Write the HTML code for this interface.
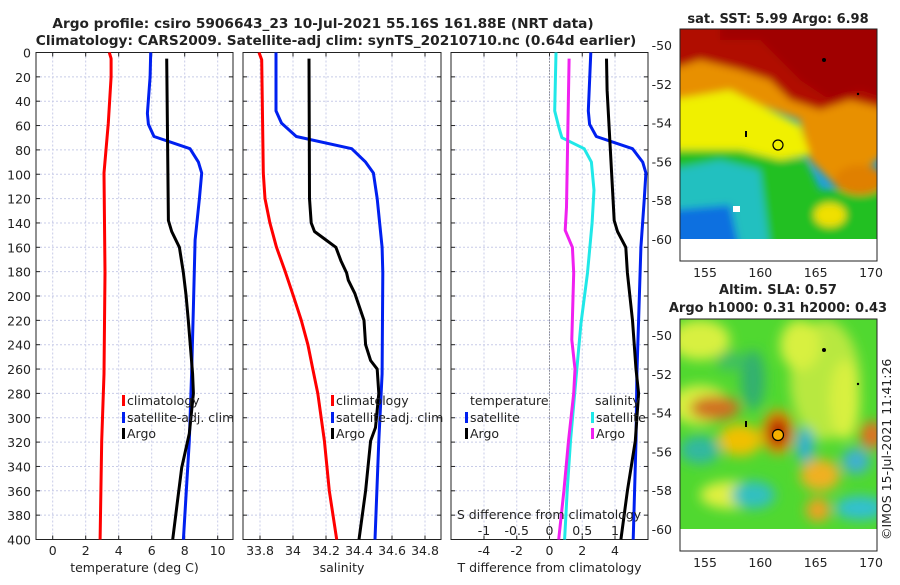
<!DOCTYPE html>
<html><head><meta charset="utf-8"><style>
body{margin:0;background:#fff}
svg text{font-family:"DejaVu Sans","Liberation Sans",sans-serif;fill:#222}
</style></head><body>
<svg id="c" width="900" height="580" viewBox="0 0 900 580" xmlns="http://www.w3.org/2000/svg">
<defs>
<filter id="bl" x="-50%" y="-50%" width="200%" height="200%"><feGaussianBlur stdDeviation="6"/></filter>
<filter id="bl2" x="-50%" y="-50%" width="200%" height="200%"><feGaussianBlur stdDeviation="4"/></filter>
<clipPath id="m1"><rect x="680" y="29" width="197" height="210"/></clipPath>
<clipPath id="m2"><rect x="680" y="319" width="197" height="210"/></clipPath>
</defs>
<text x="323" y="28" text-anchor="middle" font-weight="bold" font-size="13.7">Argo profile: csiro 5906643_23 10-Jul-2021 55.16S 161.88E (NRT data)</text>
<text x="336" y="45" text-anchor="middle" font-weight="bold" font-size="13.7">Climatology: CARS2009. Satellite-adj clim: synTS_20210710.nc (0.64d earlier)</text>
<g id="plots"></g>
<g id="maps">
  <g clip-path="url(#m1)">
    <rect x="680" y="29" width="197" height="210" fill="#1aa0e0"/>
    <g filter="url(#bl2)">
      <polygon points="670,20 890,20 890,150 840,190 810,160 800,120 760,105 730,90 700,95 670,100" fill="#e89000"/>
      <polygon points="670,100 700,95 730,90 760,105 800,125 810,155 780,160 740,150 700,160 670,165" fill="#f0f000"/>
      <polygon points="670,150 700,150 740,150 780,160 805,158 820,190 860,190 890,180 890,250 670,250" fill="#20c020"/>
      <polygon points="670,170 720,160 760,170 770,250 670,250" fill="#20c0c0"/>
      <polygon points="670,210 730,205 740,250 670,250" fill="#1070e0"/>
      <ellipse cx="830" cy="215" rx="16" ry="12" fill="#f0e000"/>
      <ellipse cx="860" cy="180" rx="25" ry="15" fill="#e08000"/>
      <polygon points="670,20 890,20 890,110 850,100 820,110 790,100 770,80 740,70 700,60 670,70" fill="#b01000"/>
      <polygon points="720,20 890,20 890,100 860,90 830,100 800,80 780,60 760,40 720,40" fill="#a00000"/>
    </g>
    <rect x="733" y="206" width="7" height="6" fill="#fff"/>
  </g>
  <rect x="680" y="239" width="197" height="22" fill="#fff"/>
  <circle cx="778" cy="145" r="5" fill="none" stroke="#000" stroke-width="1.2"/>
  <circle cx="824" cy="60" r="2" fill="#000"/><circle cx="858" cy="94" r="1.2" fill="#000"/><rect x="745" y="131" width="2" height="6" fill="#000"/>
  <rect x="680" y="29" width="197" height="232" fill="none" stroke="#222"/>
  <text x="778" y="23" text-anchor="middle" font-weight="bold" font-size="13">sat. SST: 5.99 Argo: 6.98</text>
  <text x="778" y="294" text-anchor="middle" font-weight="bold" font-size="13">Altim. SLA: 0.57</text>
  <text x="778" y="312" text-anchor="middle" font-weight="bold" font-size="13">Argo h1000: 0.31 h2000: 0.43</text>
  <g clip-path="url(#m2)">
    <rect x="680" y="319" width="197" height="210" fill="#50d830"/>
    <g filter="url(#bl)">
      <ellipse cx="825" cy="380" rx="35" ry="60" fill="#b8e840"/>
      <ellipse cx="800" cy="345" rx="20" ry="25" fill="#d8f040"/>
      <ellipse cx="845" cy="400" rx="15" ry="40" fill="#d8f040"/>
      <ellipse cx="700" cy="340" rx="30" ry="20" fill="#d8f040"/>
      <ellipse cx="700" cy="405" rx="30" ry="20" fill="#d8f040"/>
      <ellipse cx="715" cy="408" rx="25" ry="12" fill="#d07020"/>
      <ellipse cx="740" cy="440" rx="22" ry="16" fill="#f0c000"/>
      <ellipse cx="730" cy="495" rx="30" ry="14" fill="#e0f040"/>
      <ellipse cx="820" cy="475" rx="20" ry="16" fill="#f0b020"/>
      <ellipse cx="818" cy="510" rx="12" ry="12" fill="#f0a020"/>
      <ellipse cx="872" cy="435" rx="12" ry="14" fill="#e07020"/>
      <ellipse cx="778" cy="432" rx="16" ry="22" fill="#f09000"/>
      <ellipse cx="778" cy="432" rx="10" ry="15" fill="#b01000"/>
      <ellipse cx="700" cy="450" rx="20" ry="14" fill="#30b8a0"/>
      <ellipse cx="753" cy="380" rx="12" ry="30" fill="#30b070"/>
      <ellipse cx="753" cy="495" rx="22" ry="14" fill="#30c0c0"/>
      <ellipse cx="805" cy="445" rx="9" ry="18" fill="#30b0d0"/>
      <ellipse cx="856" cy="461" rx="14" ry="13" fill="#40b0d0"/>
      <ellipse cx="860" cy="508" rx="25" ry="12" fill="#30c0d0"/>
      <ellipse cx="730" cy="361" rx="14" ry="10" fill="#40c060"/>
    </g>
  </g>
  <rect x="680" y="529" width="197" height="22" fill="#fff"/>
  <circle cx="778" cy="435" r="5.5" fill="#f5b000" stroke="#000" stroke-width="1.2"/>
  <circle cx="824" cy="350" r="2" fill="#000"/><circle cx="858" cy="384" r="1.2" fill="#000"/><rect x="745" y="421" width="2" height="6" fill="#000"/>
  <rect x="680" y="319" width="197" height="232" fill="none" stroke="#222"/>
  <text transform="translate(891,540) rotate(-90)" font-size="12.5">©IMOS 15-Jul-2021 11:41:26</text>
</g>
</svg>
<script>
const depthTicks=[0,20,40,60,80,100,120,140,160,180,200,220,240,260,280,300,320,340,360,380,400];
const tempTicks=[0,2,4,6,8,10];
const salTicks=[33.8,34,34.2,34.4,34.6,34.8];
const tdTicks=[-4,-2,0,2,4];
const sdTicks=[-1,-0.5,0,0.5,1];
const lonTicks=[155,160,165,170];
const latTicks=[-50,-52,-54,-56,-58,-60];
// temperature profiles [depth, value]
const tClim=[[0,3.43],[5,3.54],[20,3.54],[58,3.37],[99,3.11],[181,3.17],[264,3.11],[319,2.97],[400,2.87]];
const tSat=[[0,5.94],[20,5.9],[50,5.74],[59,5.8],[69,6.14],[79,8.32],[90,8.83],[99,9.03],[120,8.89],[154,8.63],[209,8.53],[264,8.42],[319,8.28],[400,7.92]];
const tArgo=[[5,6.91],[138,7.01],[147,7.21],[160,7.68],[181,7.92],[199,8.08],[220,8.22],[264,8.48],[280,8.53],[313,8.28],[341,7.82],[373,7.52],[400,7.27]];
// salinity profiles
const sClim=[[0,33.794],[6,33.81],[99,33.82],[120,33.83],[140,33.86],[160,33.9],[179,33.95],[199,34.0],[220,34.05],[240,34.09],[260,34.12],[280,34.15],[319,34.19],[360,34.22],[400,34.265]];
const sSat=[[0,33.897],[48,33.897],[58,33.93],[69,34.02],[79,34.356],[90,34.44],[99,34.487],[120,34.51],[160,34.54],[181,34.544],[264,34.54],[319,34.52],[400,34.497]];
const sArgo=[[5,34.097],[120,34.1],[140,34.11],[147,34.13],[154,34.2],[160,34.26],[171,34.29],[181,34.325],[187,34.335],[198,34.375],[220,34.43],[240,34.44],[253,34.47],[260,34.51],[280,34.52],[308,34.5],[319,34.47],[360,34.44],[400,34.4]];
// differences
const tdSat=[[0,2.52],[48,2.37],[59,2.45],[69,2.86],[79,5.07],[90,5.69],[99,5.89],[120,5.79],[160,5.58],[264,5.34],[319,5.28],[400,5.11]];
const tdArgo=[[5,3.48],[31,3.52],[138,3.95],[147,4.15],[160,4.66],[181,4.76],[220,5.07],[260,5.28],[280,5.44],[319,5.24],[360,4.76],[400,4.36]];
const sdSat=[[0,0.10],[48,0.08],[61,0.14],[70,0.19],[79,0.53],[90,0.64],[113,0.68],[140,0.65],[181,0.58],[223,0.48],[264,0.41],[319,0.32],[360,0.27],[400,0.23]];
const sdArgo=[[5,0.30],[127,0.26],[146,0.24],[160,0.35],[181,0.37],[236,0.34],[260,0.39],[280,0.37],[319,0.29],[360,0.22],[400,0.14]];

const NS='http://www.w3.org/2000/svg';
const root=document.getElementById('plots');
function mk(t,a,p){const e=document.createElementNS(NS,t);for(const k in a)e.setAttribute(k,a[k]);(p||root).appendChild(e);return e;}
const Y0=52.5,Y1=539.5;
function yD(d){return Y0+(d/400)*(Y1-Y0);}
function scale(x0,x1,v0,v1){return v=>x0+(v-v0)/(v1-v0)*(x1-x0);}
const xT=scale(52.7,217.7,0,10), xS=scale(260,425,33.8,34.8), xTD=scale(484,615,-4,4), xSD=scale(484,615,-1,1);
function panel(name,x0,x1,xs,ticks,fmt,label){
  const g=mk('g',{});
  
  
  depthTicks.forEach(d=>{mk('line',{x1:x0,x2:x1,y1:yD(d),y2:yD(d),stroke:'#c8cce8','stroke-dasharray':'2,2','stroke-width':1},g);});
  ticks.forEach(t=>{mk('line',{x1:xs(t),x2:xs(t),y1:Y0,y2:Y1,stroke:'#c8cce8','stroke-dasharray':'2,2'},g);
    mk('line',{x1:xs(t),x2:xs(t),y1:Y1,y2:Y1-4,stroke:'#222'},g);mk('line',{x1:xs(t),x2:xs(t),y1:Y0,y2:Y0+4,stroke:'#222'},g);
    const tx=mk('text',{x:xs(t),y:555,'text-anchor':'middle','font-size':12.5},g);tx.textContent=fmt(t);
    
    });
  depthTicks.forEach(d=>{mk('line',{x1:x0,x2:x0+4,y1:yD(d),y2:yD(d),stroke:'#222'},g);mk('line',{x1:x1,x2:x1-4,y1:yD(d),y2:yD(d),stroke:'#222'},g);});
  mk('rect',{x:x0,y:Y0,width:x1-x0,height:Y1-Y0,fill:'none',stroke:'#222'},g);
  const lb=mk('text',{x:(x0+x1)/2,y:572,'text-anchor':'middle','font-size':12.5},g);lb.textContent=label;
  
  
  return g;
}
function line(g,data,xs,col,name){
  const p=mk('polyline',{points:data.map(d=>xs(d[1]).toFixed(1)+','+yD(d[0]).toFixed(1)).join(' '),fill:'none',stroke:col,'stroke-width':3,'stroke-linejoin':'round'},g);
  
  
}
function txt(g,x,y,s,name,anchor){const t=mk('text',{x:x,y:y,'font-size':12.5,'text-anchor':anchor||'start'},g);t.textContent=s;
  
  return t;}
function leg(g,x,y,col,s){mk('rect',{x:x,y:y-10,width:3,height:11,fill:col},g);txt(g,x+5,y,s,'legend-entry');}
depthTicks.forEach(d=>{txt(root,31,yD(d)+5,String(d),'y-tick-label','end');});
const g1=panel('temperature-panel',36,233,xT,tempTicks,String,'temperature (deg C)');
line(g1,tClim,xT,'#f00','temp-climatology-line');line(g1,tSat,xT,'#0020f0','temp-satellite-line');line(g1,tArgo,xT,'#000','temp-argo-line');
leg(g1,122,405,'#f00','climatology');leg(g1,122,422,'#0020f0','satellite-adj. clim');leg(g1,122,438,'#000','Argo');
const g2=panel('salinity-panel',243,441,xS,salTicks,v=>String(v),'salinity');
line(g2,sClim,xS,'#f00','sal-climatology-line');line(g2,sSat,xS,'#0020f0','sal-satellite-line');line(g2,sArgo,xS,'#000','sal-argo-line');
leg(g2,331,405,'#f00','climatology');leg(g2,331,422,'#0020f0','satellite-adj. clim');leg(g2,331,438,'#000','Argo');
const g3=panel('difference-panel',451,648,xTD,tdTicks,String,'T difference from climatology');
mk('line',{x1:xTD(0),x2:xTD(0),y1:Y0,y2:Y1,stroke:'#555','stroke-dasharray':'1,2'},g3);
line(g3,sdSat,xSD,'#20e8e8','sdiff-satellite-line');line(g3,sdArgo,xSD,'#f020f0','sdiff-argo-line');
line(g3,tdSat,xTD,'#0020f0','tdiff-satellite-line');line(g3,tdArgo,xTD,'#000','tdiff-argo-line');
txt(g3,470,405,'temperature','legend-title-temperature');txt(g3,595,405,'salinity','legend-title-salinity');
leg(g3,465,422,'#0020f0','satellite');leg(g3,465,438,'#000','Argo');
leg(g3,591,422,'#20e8e8','satellite');leg(g3,591,438,'#f020f0','Argo');
txt(g3,549,519,'S difference from climatology','s-axis-title','middle');
sdTicks.forEach(t=>txt(g3,xSD(t),535,String(t),'s-tick-label','middle'));
const lonX=scale(705,871,155,170), lat1=scale(45,239,-50,-60), lat2=scale(335,529,-50,-60);
[[29,lat1,261],[319,lat2,551]].forEach(([top,ly,bot])=>{
  lonTicks.forEach(l=>{mk('line',{x1:lonX(l),x2:lonX(l),y1:bot,y2:bot-4,stroke:'#222'});txt(root,lonX(l),bot+16,String(l),'lon-tick-label','middle');});
  latTicks.forEach(l=>{mk('line',{x1:680,x2:684,y1:ly(l),y2:ly(l),stroke:'#222'});mk('line',{x1:877,x2:873,y1:ly(l),y2:ly(l),stroke:'#222'});txt(root,672,ly(l)+5,String(l),'lat-tick-label','end');});
});
</script>
</body></html>
